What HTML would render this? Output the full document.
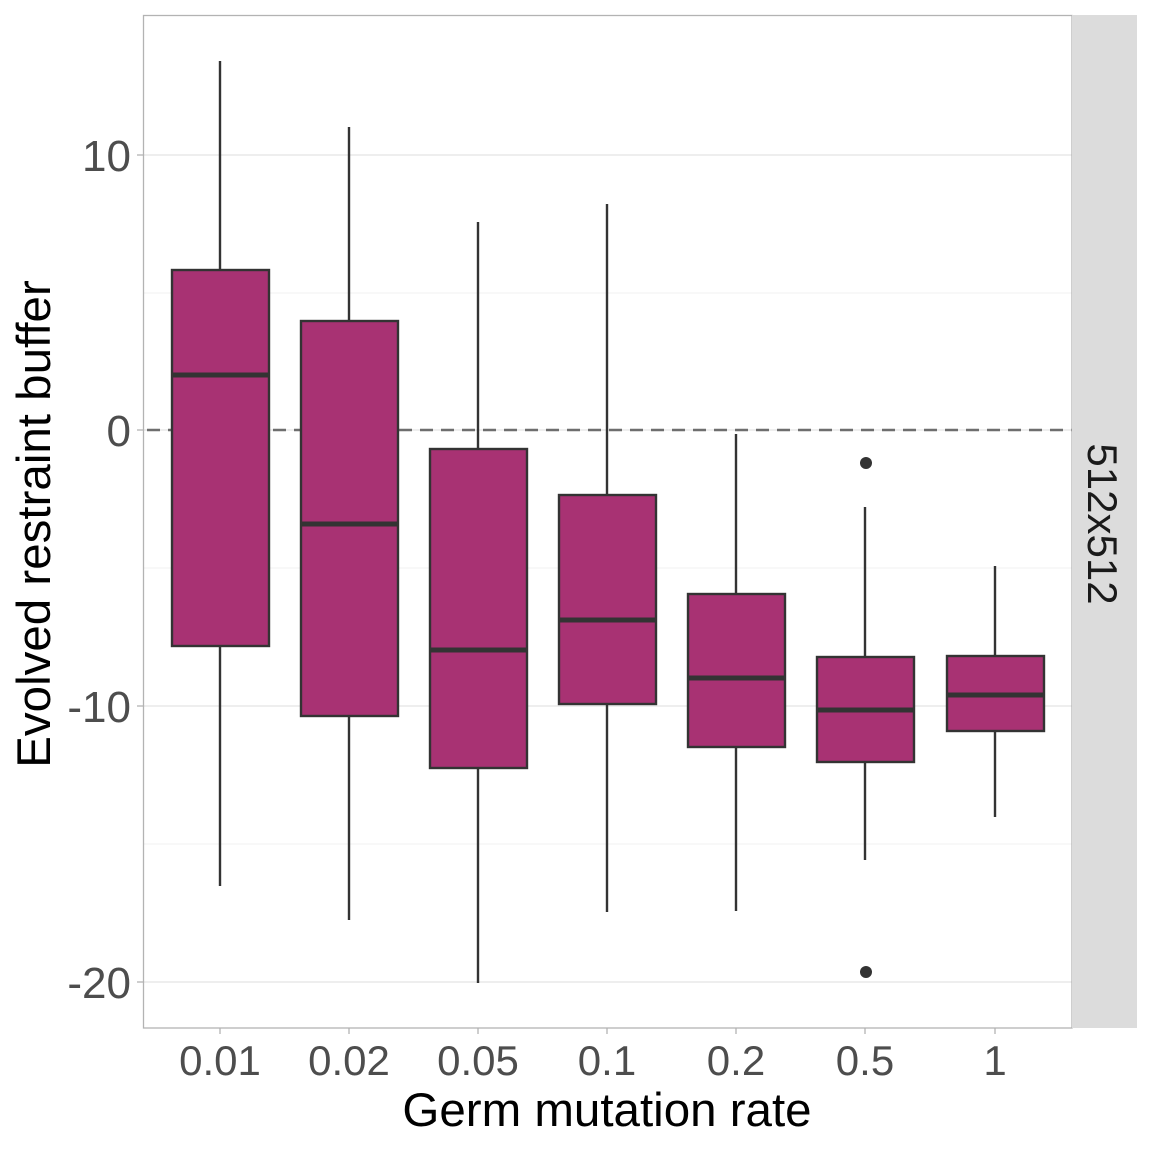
<!DOCTYPE html>
<html><head><meta charset="utf-8"><style>
html,body{margin:0;padding:0;background:#fff;}
svg{display:block;}
text{font-family:"Liberation Sans",sans-serif;}
</style></head><body>
<svg width="1152" height="1152" viewBox="0 0 1152 1152">
<rect x="0" y="0" width="1152" height="1152" fill="#fff"/>
<g stroke="#f0f0f0" stroke-width="1">
<line x1="143" x2="1072" y1="293" y2="293"/>
<line x1="143" x2="1072" y1="568" y2="568"/>
<line x1="143" x2="1072" y1="844" y2="844"/>
</g>
<g stroke="#e3e3e3" stroke-width="1.3">
<line x1="143" x2="1072" y1="155" y2="155"/>
<line x1="143" x2="1072" y1="430" y2="430"/>
<line x1="143" x2="1072" y1="706" y2="706"/>
<line x1="143" x2="1072" y1="982" y2="982"/>
</g>
<line x1="143" x2="1072" y1="430" y2="430" stroke="#6e6e6e" stroke-width="2.4" stroke-dasharray="13,8" stroke-dashoffset="-4"/>
<g stroke="#333" stroke-width="2.4" fill="#A83273">
<line x1="220" x2="220" y1="61" y2="886"/>
<rect x="172" y="270" width="97" height="376"/>
<line x1="172" x2="269" y1="375" y2="375" stroke-width="5"/>
<line x1="349" x2="349" y1="127" y2="920"/>
<rect x="301" y="321" width="97" height="395"/>
<line x1="301" x2="398" y1="524" y2="524" stroke-width="5"/>
<line x1="478" x2="478" y1="222" y2="983"/>
<rect x="430" y="449" width="97" height="319"/>
<line x1="430" x2="527" y1="650" y2="650" stroke-width="5"/>
<line x1="607" x2="607" y1="204" y2="912"/>
<rect x="559" y="495" width="97" height="209"/>
<line x1="559" x2="656" y1="620" y2="620" stroke-width="5"/>
<line x1="736" x2="736" y1="434" y2="911"/>
<rect x="688" y="594" width="97" height="153"/>
<line x1="688" x2="785" y1="678" y2="678" stroke-width="5"/>
<line x1="865" x2="865" y1="507" y2="860"/>
<rect x="817" y="657" width="97" height="105"/>
<line x1="817" x2="914" y1="710" y2="710" stroke-width="5"/>
<line x1="995" x2="995" y1="566" y2="817"/>
<rect x="947" y="656" width="97" height="75"/>
<line x1="947" x2="1044" y1="695" y2="695" stroke-width="5"/>
</g>
<circle cx="866" cy="463" r="6" fill="#333"/>
<circle cx="866" cy="972" r="6" fill="#333"/>
<rect x="143.5" y="15.5" width="928.5" height="1012.5" fill="none" stroke="#b3b3b3" stroke-width="1.3"/>
<rect x="1072" y="15" width="65" height="1013" fill="#dcdcdc"/>
<text transform="translate(1088,524) rotate(90)" font-size="42" fill="#1a1a1a" text-anchor="middle">512x512</text>
<g stroke="#b3b3b3" stroke-width="1.3">
<line x1="137" x2="143" y1="155" y2="155"/>
<line x1="137" x2="143" y1="430" y2="430"/>
<line x1="137" x2="143" y1="706" y2="706"/>
<line x1="137" x2="143" y1="982" y2="982"/>
<line x1="220" x2="220" y1="1028" y2="1034"/>
<line x1="349" x2="349" y1="1028" y2="1034"/>
<line x1="478" x2="478" y1="1028" y2="1034"/>
<line x1="607" x2="607" y1="1028" y2="1034"/>
<line x1="736" x2="736" y1="1028" y2="1034"/>
<line x1="865" x2="865" y1="1028" y2="1034"/>
<line x1="995" x2="995" y1="1028" y2="1034"/>
</g>
<g font-size="44" fill="#4d4d4d" text-anchor="end">
<text x="131" y="171">10</text>
<text x="131" y="446">0</text>
<text x="131" y="722">-10</text>
<text x="131" y="998">-20</text>
</g>
<g font-size="42" fill="#4d4d4d" text-anchor="middle">
<text x="220" y="1075">0.01</text>
<text x="349" y="1075">0.02</text>
<text x="478" y="1075">0.05</text>
<text x="607" y="1075">0.1</text>
<text x="736" y="1075">0.2</text>
<text x="865" y="1075">0.5</text>
<text x="995" y="1075">1</text>
</g>
<text x="607" y="1126" font-size="47.5" fill="#000" text-anchor="middle">Germ mutation rate</text>
<text transform="translate(50,524) rotate(-90)" font-size="47.5" fill="#000" text-anchor="middle">Evolved restraint buffer</text>
</svg>
</body></html>
